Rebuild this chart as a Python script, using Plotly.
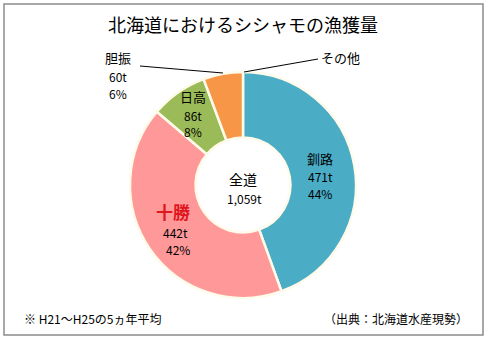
import plotly.graph_objects as go

W, H = 487, 339

# Data
regions = ["釧路", "十勝", "日高", "胆振"]
tons = [471, 442, 86, 60]
percents = ["44%", "42%", "8%", "6%"]
other_label = "その他"
total_label = "1,059t"
colors = ["#4BACC6", "#FF9999", "#9BBB59", "#F79646"]

FONT = "Noto Sans CJK JP"

def px(x):
    return x / W

def py(y):
    return 1 - y / H

cx, cy, r = 243, 185, 113

fig = go.Figure()
fig.add_trace(go.Pie(
    labels=regions, values=tons, sort=False, direction="clockwise", rotation=0,
    hole=0.42, textinfo="none", hoverinfo="label+value",
    marker=dict(colors=colors, line=dict(color="#FFFBEA", width=2.5)),
    domain=dict(x=[px(cx - r), px(cx + r)], y=[py(cy + r), py(cy - r)]),
    showlegend=False,
))

ann = []
def txt(x, y, s, size=12, color="#000", bold=False, xanchor="center"):
    ann.append(dict(x=px(x), y=py(y), xref="paper", yref="paper", text=("<b>%s</b>" % s) if bold else s,
                    showarrow=False, xanchor=xanchor, yanchor="middle",
                    font=dict(family=FONT, size=size, color=color)))

txt(243, 24, "北海道におけるシシャモの漁獲量", size=18)

# slice labels
pos = {"釧路": (320, 158), "十勝": (175, 211), "日高": (193, 97), "胆振": (118, 58)}
for name, t, p in zip(regions, tons, percents):
    x, y = pos[name]
    if name == "十勝":
        txt(x - 2, y, name, size=17, color="#E0161E", bold=True)
        txt(x, y + 21, f"{t}t", size=12)
        txt(x + 3, y + 38, p, size=12)
    else:
        txt(x, y, name, size=13)
        txt(x, y + 18, f"{t}t", size=12)
        txt(x, y + 35, p, size=12)

txt(340, 57, other_label, size=13)
txt(243, 179, "全道", size=14)
txt(244, 198, total_label, size=12)

txt(22, 318, "※ H21～H25の5ヵ年平均", size=12, xanchor="left")
txt(470, 318, "（出典：北海道水産現勢）", size=12, xanchor="right")

shapes = [
    dict(type="line", xref="paper", yref="paper", x0=px(140), y0=py(66), x1=px(223), y1=py(73),
         line=dict(color="#000", width=1)),
    dict(type="line", xref="paper", yref="paper", x0=px(244), y0=py(72), x1=px(318), y1=py(59),
         line=dict(color="#000", width=1)),
    dict(type="rect", xref="paper", yref="paper", x0=px(4), y0=py(335), x1=px(483), y1=py(4),
         line=dict(color="#8C8C8C", width=1.5)),
]

fig.update_layout(
    width=W, height=H, margin=dict(l=0, r=0, t=0, b=0),
    paper_bgcolor="white", plot_bgcolor="white",
    annotations=ann, shapes=shapes,
)

fig.write_html("out.html")
